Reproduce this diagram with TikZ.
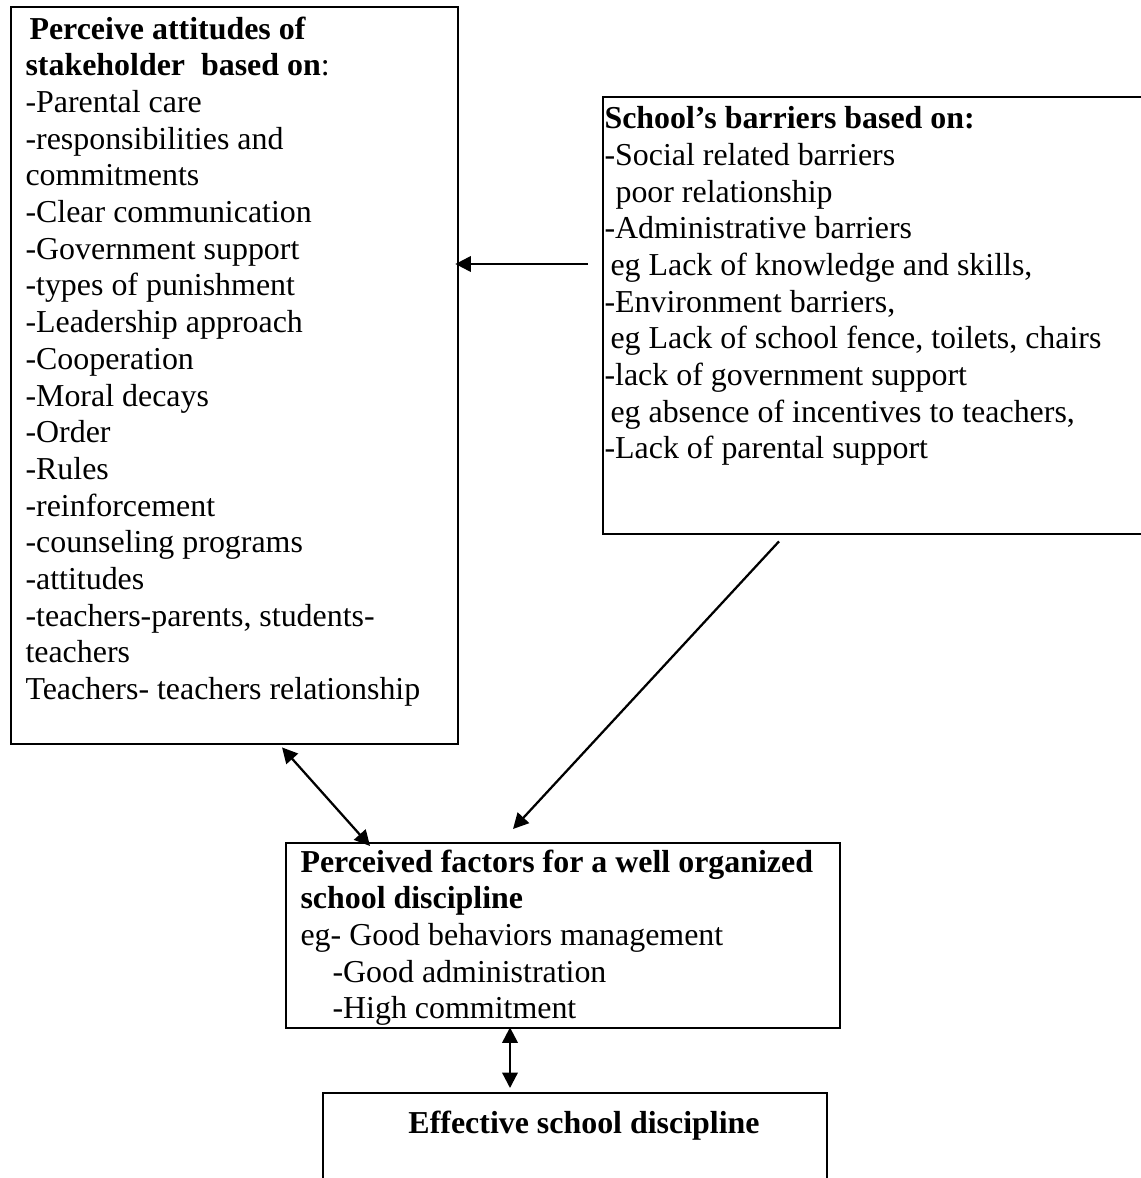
\documentclass[tikz,border=0pt]{standalone}
\usepackage{fontspec}
\setmainfont{Liberation Serif}
\usetikzlibrary{arrows.meta,calc}
\newlength\px
\setlength\px{0.376pt}

\begin{document}
\begin{tikzpicture}[x=0.376pt,y=-0.376pt]
  \useasboundingbox (0,0) rectangle (1140,1178);
  \tikzstyle{box}=[draw, line width=0.9pt, rectangle, inner sep=0pt, anchor=north west]
  \tikzstyle{txt}=[anchor=north west, align=left, inner sep=0pt, font=\fontsize{12}{13.8}\selectfont]
  \tikzstyle{arr}=[line width=0.85pt, -{Triangle[length=5.8pt,width=5.8pt]}]
  \tikzstyle{dbl}=[line width=0.85pt, {Triangle[length=5.8pt,width=5.8pt]}-{Triangle[length=5.8pt,width=5.8pt]}]
  % boxes
  \node[box, minimum width=447\px, minimum height=737\px] (attitudes) at (10,6) {};
  \node[box, minimum width=540\px, minimum height=437\px] (barriers) at (602,96) {};
  \node[box, minimum width=554\px, minimum height=185\px] (factors) at (285,842) {};
  \node[box, minimum width=504\px, minimum height=120\px] (effective) at (322,1092) {};
  % texts
  \node[txt] (attitudestext) at ($(attitudes.north west)+(15,10)$) {%
    \hspace*{4\px}\textbf{Perceive attitudes of}\\
    \textbf{stakeholder\ \ based on}:\\
    -Parental care\\
    -responsibilities and\\
    commitments\\
    -Clear communication\\
    -Government support\\
    -types of punishment\\
    -Leadership approach\\
    -Cooperation\\
    -Moral decays\\
    -Order\\
    -Rules\\
    -reinforcement\\
    -counseling programs\\
    -attitudes\\
    -teachers-parents, students-\\
    teachers\\
    Teachers- teachers relationship};
  \node[txt] (barrierstext) at ($(barriers.north west)+(2,10)$) {%
    \textbf{School’s barriers based on:}\\
    -Social related barriers\\
    \hspace*{11\px}poor relationship\\
    -Administrative barriers\\
    \hspace*{6\px}eg Lack of knowledge and skills,\\
    -Environment barriers,\\
    \hspace*{6\px}eg Lack of school fence, toilets, chairs\\
    -lack of government support\\
    \hspace*{6\px}eg absence of incentives to teachers,\\
    -Lack of parental support};
  \node[txt] (factorstext) at ($(factors.north west)+(15,7)$) {%
    \textbf{Perceived factors for a well organized}\\
    \textbf{school discipline}\\
    eg- Good behaviors management\\
    \hspace*{32\px}-Good administration\\
    \hspace*{32\px}-High commitment};
  \node[txt, anchor=north] (effectivetext) at ($(effective.north west)+(262,18)$) {\textbf{Effective school discipline}};
  % connectors
  \coordinate (h) at ($(barriers.north west)+(-14,168)$);
  \draw[arr] (h) -- ($(h -| attitudes.east)+(-4,0)$);
  \draw[arr] ($(barriers.south west)+(177,6)$) -- ($(factors.north west)+(228,-13)$);
  \draw[dbl] ($(attitudes.south west)+(272,2)$) -- ($(factors.north west)+(85,4)$);
  \draw[dbl] ($(factors.south west)+(225,-2)$) -- ($(effective.north west)+(188,-4)$);
\end{tikzpicture}
\end{document}
